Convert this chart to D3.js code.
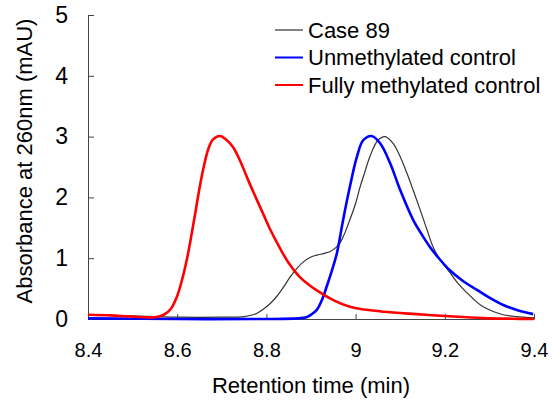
<!DOCTYPE html>
<html>
<head>
<meta charset="utf-8">
<script src="https://cdn.jsdelivr.net/npm/d3@7"></script>
<style>
  body { margin: 0; background: #fff; }
  text { font-family: "Liberation Sans", Arial, sans-serif; fill: #000; }
</style>
</head>
<body>
<div id="chart"></div>
<script>
// series names for legend
var seriesNames = ["Case 89", "Unmethylated control", "Fully methylated control"];
var seriesColors = ["#333333", "#0000ff", "#ff0000"];

var xTicks = [8.4, 8.6, 8.8, 9, 9.2, 9.4];
var yTicks = [0, 1, 2, 3, 4, 5];

// Case 89 (retention time, absorbance)
var caseT = [8.40, 8.45, 8.50, 8.60, 8.70, 8.75, 8.77, 8.78, 8.793, 8.808, 8.823, 8.838, 8.853, 8.868, 8.883, 8.90, 8.913, 8.93, 8.943, 8.955, 8.965, 8.975, 8.987, 9.00, 9.01, 9.02, 9.032, 9.05, 9.066, 9.084, 9.10, 9.115, 9.13, 9.145, 9.16, 9.174, 9.19, 9.212, 9.23, 9.25, 9.27, 9.286, 9.31, 9.331, 9.36, 9.40];
var caseV = [0.07, 0.06, 0.05, 0.03, 0.03, 0.04, 0.07, 0.10, 0.16, 0.25, 0.37, 0.52, 0.69, 0.83, 0.94, 1.02, 1.05, 1.08, 1.11, 1.17, 1.25, 1.40, 1.63, 1.90, 2.17, 2.40, 2.67, 2.94, 3.00, 2.89, 2.67, 2.40, 2.10, 1.79, 1.47, 1.18, 0.97, 0.76, 0.58, 0.43, 0.29, 0.20, 0.12, 0.07, 0.04, 0.02];

// Unmethylated control
var unmT = [8.40, 8.60, 8.80, 8.87, 8.89, 8.90, 8.913, 8.925, 8.935, 8.947, 8.958, 8.972, 8.987, 9.003, 9.017, 9.036, 9.055, 9.077, 9.10, 9.129, 9.15, 9.167, 9.19, 9.21, 9.24, 9.272, 9.30, 9.331, 9.365, 9.398];
var unmV = [0.01, 0.0, 0.0, 0.01, 0.03, 0.07, 0.15, 0.32, 0.53, 0.80, 1.08, 1.63, 2.17, 2.67, 2.94, 3.01, 2.89, 2.57, 2.12, 1.63, 1.37, 1.18, 0.97, 0.81, 0.63, 0.48, 0.35, 0.23, 0.14, 0.08];

// Fully methylated control
var fullT = [8.40, 8.45, 8.50, 8.55, 8.57, 8.585, 8.60, 8.61, 8.62, 8.63, 8.64, 8.65, 8.66, 8.67, 8.68, 8.696, 8.71, 8.725, 8.74, 8.756, 8.77, 8.786, 8.808, 8.83, 8.85, 8.875, 8.913, 8.95, 8.987, 9.02, 9.062, 9.137, 9.21, 9.286, 9.35, 9.40];
var fullV = [0.07, 0.06, 0.04, 0.03, 0.07, 0.16, 0.38, 0.62, 0.92, 1.30, 1.72, 2.15, 2.52, 2.80, 2.95, 3.01, 2.95, 2.83, 2.62, 2.34, 2.10, 1.84, 1.48, 1.17, 0.92, 0.69, 0.47, 0.31, 0.20, 0.155, 0.12, 0.08, 0.045, 0.015, 0.005, 0.0];

var W = 553, H = 405;
var x0 = 88, x1 = 534, y0 = 319, y1 = 15;

var svg = d3.select("#chart")
    .append("svg")
        .attr("width", W)
        .attr("height", H);

var xScale = d3.scaleLinear().domain([8.4, 9.4]).range([x0, x1]);
var yScale = d3.scaleLinear().domain([0, 5]).range([y0, y1]);

// X axis
svg.append("g")
    .attr("transform", `translate(0,${y0})`)
    .call(d3.axisBottom(xScale)
        .tickValues(xTicks)
        .tickFormat(d3.format("~g"))
        .tickSizeInner(-5)
        .tickSizeOuter(0)
        .tickPadding(24))
    .call(g => g.selectAll("text").style("font-size", "20px").attr("fill", "#000"))
    .call(g => g.selectAll("line,path").attr("stroke", "#444"));

// Y axis
svg.append("g")
    .attr("transform", `translate(${x0},0)`)
    .call(d3.axisLeft(yScale)
        .tickValues(yTicks)
        .tickFormat(d3.format("~g"))
        .tickSizeInner(-6)
        .tickSizeOuter(0)
        .tickPadding(20))
    .call(g => g.selectAll("text").style("font-size", "23px").attr("fill", "#000"))
    .call(g => g.selectAll("line,path").attr("stroke", "#444"));

// axis titles
svg.append("text")
    .attr("transform", "translate(32,161) rotate(-90)")
    .style("text-anchor", "middle")
    .style("font-size", "22px")
    .text("Absorbance at 260nm (mAU)");

svg.append("text")
    .attr("x", 311)
    .attr("y", 393)
    .style("text-anchor", "middle")
    .style("font-size", "22px")
    .text("Retention time (min)");

// curves
var line = d3.line()
    .x(d => xScale(d[0]))
    .y(d => yScale(d[1]))
    .curve(d3.curveCatmullRom.alpha(0.5));

var series = [
    {pts: d3.zip(caseT, caseV), color: seriesColors[0], w: 1.2},
    {pts: d3.zip(unmT, unmV), color: seriesColors[1], w: 2.6},
    {pts: d3.zip(fullT, fullV), color: seriesColors[2], w: 2.6}
];

svg.selectAll(".curve")
    .data(series)
    .enter().append("path")
    .attr("class", "curve")
    .attr("d", d => line(d.pts))
    .attr("fill", "none")
    .attr("stroke", d => d.color)
    .attr("stroke-width", d => d.w)
    .attr("stroke-linejoin", "round");

// legend
var legend = svg.selectAll(".leg")
    .data(seriesNames)
    .enter().append("g")
    .attr("class", "leg")
    .attr("transform", (d, i) => `translate(275,${30 + i * 27.5})`);

legend.append("line")
    .attr("x1", 0).attr("x2", 28)
    .attr("stroke", (d, i) => seriesColors[i])
    .attr("stroke-width", (d, i) => i == 0 ? 1.2 : 2);

legend.append("text")
    .attr("x", 33)
    .attr("dy", "0.36em")
    .style("font-size", "22px")
    .text(d => d);
</script>
</body>
</html>
